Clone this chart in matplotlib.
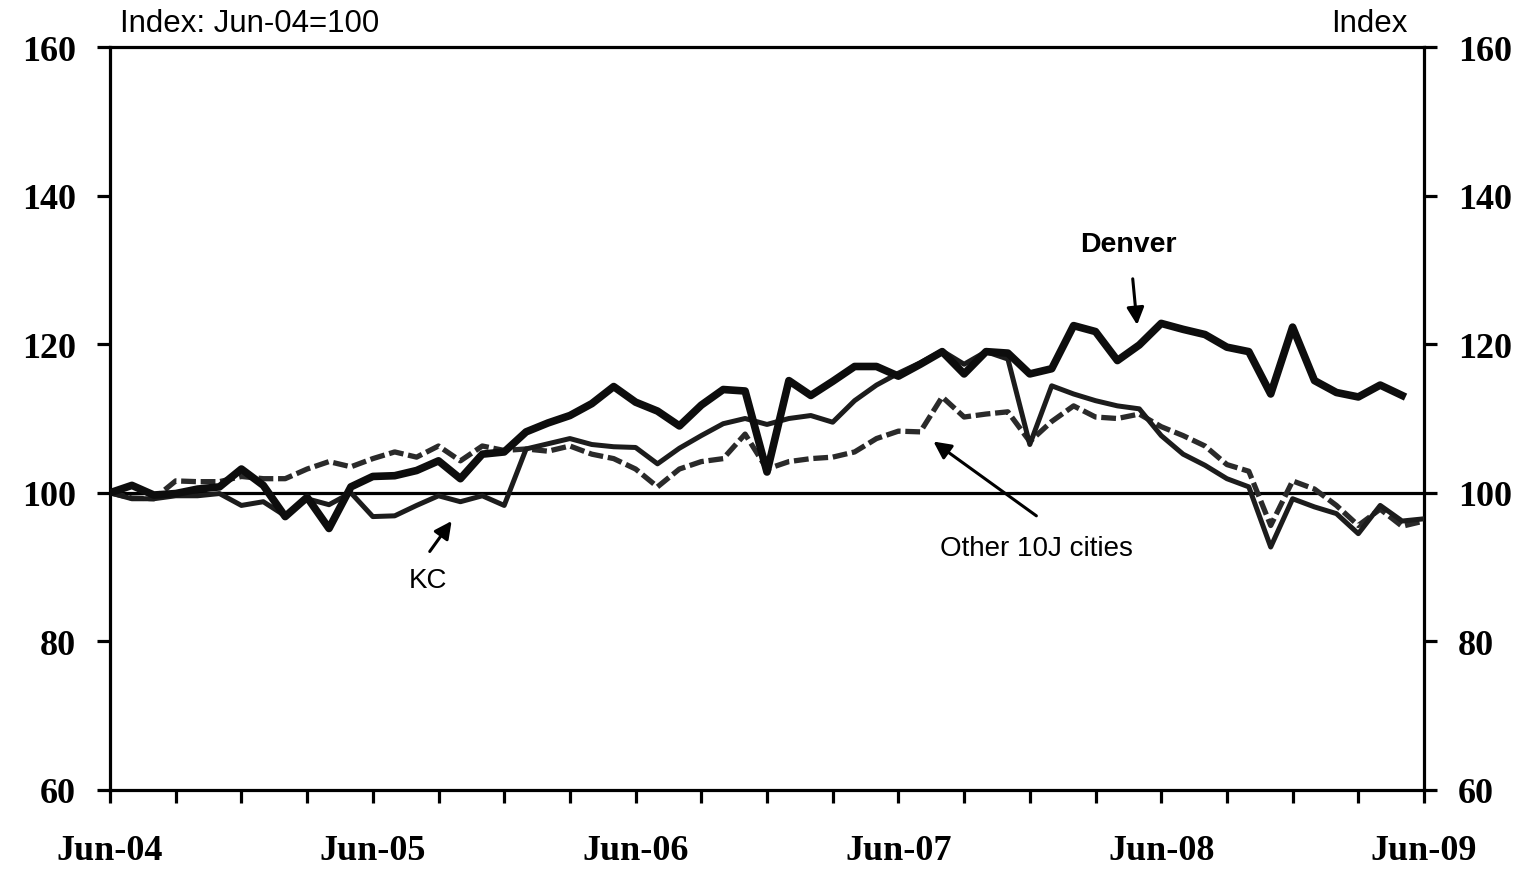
import matplotlib
matplotlib.use("Agg")
import matplotlib.pyplot as plt
import numpy as np

# Monthly index values, Jun-04 = 100 (month 0 = Jun-04 ... month 60 = Jun-09)
denver = [100.0, 101.0, 99.7, 99.9, 100.5, 100.8, 103.2, 101.0, 96.8, 99.4,
          95.2, 100.8, 102.2, 102.3, 103.0, 104.3, 101.9, 105.2, 105.5, 108.2,
          109.4, 110.4, 112.0, 114.3, 112.2, 111.0, 109.0, 111.8, 113.9, 113.7,
          102.8, 115.1, 113.1, 115.0, 117.0, 117.0, 115.7, 117.3, 119.0, 116.0,
          119.0, 118.8, 116.0, 116.7, 122.5, 121.7, 117.8, 119.9, 122.8, 122.0,
          121.3, 119.6, 119.0, 113.3, 122.3, 115.1, 113.5, 112.9, 114.5, 113.1]

kc = [100.0, 99.2, 99.2, 99.6, 99.6, 99.9, 98.3, 98.8, 96.9, 99.2,
      98.4, 100.0, 96.8, 96.9, 98.3, 99.6, 98.8, 99.6, 98.3, 105.9,
      106.6, 107.3, 106.5, 106.2, 106.1, 103.9, 106.0, 107.7, 109.3, 110.0,
      109.2, 110.0, 110.4, 109.5, 112.4, 114.5, 116.1, 117.5, 119.1, 117.3,
      119.0, 118.0, 106.5, 114.4, 113.3, 112.4, 111.7, 111.3, 107.7, 105.2,
      103.7, 101.9, 100.8, 92.7, 99.2, 98.1, 97.2, 94.5, 98.3, 96.2, 96.5]

other10j = [100.0, 99.3, 99.2, 101.6, 101.5, 101.5, 102.2, 101.9, 101.9, 103.2,
            104.2, 103.5, 104.6, 105.5, 104.8, 106.3, 104.3, 106.3, 105.7, 105.9,
            105.6, 106.3, 105.2, 104.6, 103.2, 100.8, 103.2, 104.2, 104.6, 107.9,
            103.2, 104.2, 104.6, 104.8, 105.5, 107.3, 108.3, 108.2, 112.9, 110.2,
            110.6, 110.9, 106.9, 109.6, 111.7, 110.2, 110.0, 110.6, 108.9, 107.7,
            106.3, 103.8, 102.9, 95.6, 101.6, 100.5, 98.3, 95.6, 97.8, 95.5, 96.2]

year_labels = ["Jun-04", "Jun-05", "Jun-06", "Jun-07", "Jun-08", "Jun-09"]
y_ticks = [60, 80, 100, 120, 140, 160]

fig = plt.figure(figsize=(15.29, 8.70), dpi=100)
ax = fig.add_axes([110/1529, 79/870, 1314/1529, 743/870])

m_den = np.arange(len(denver))
m_all = np.arange(len(kc))

ax.axhline(100, color="black", lw=2.3, zorder=2)
ax.plot(m_all, other10j, color="#2a2a2a", lw=3.8, linestyle=(0, (2.8, 0.9)), zorder=3)
ax.plot(m_all, kc, color="#1c1c1c", lw=3.6, zorder=4)
ax.plot(m_den, denver, color="#0d0d0d", lw=5.5, zorder=5)

ax.set_xlim(0, 60)
ax.set_ylim(60, 160)

for s in ax.spines.values():
    s.set_linewidth(2.3)
    s.set_color("black")

ax.set_xticks(np.arange(0, 61, 12))
ax.set_xticklabels(year_labels)
ax.set_xticks(np.arange(0, 61, 3), minor=True)
ax.set_yticks(y_ticks)
ax.set_yticklabels([str(v) for v in y_ticks])

ax.tick_params(axis="x", which="both", direction="out", length=9.5, width=2.3,
               pad=22, bottom=True, top=False)
ax.tick_params(axis="y", which="major", direction="out", length=9.5, width=2.3,
               pad=15, left=True, right=True, labelleft=True, labelright=True)

for t in ax.xaxis.get_major_ticks() + ax.yaxis.get_major_ticks():
    for lab in (t.label1, t.label2):
        lab.set_fontfamily("Liberation Serif")
        lab.set_fontweight("bold")
        lab.set_fontsize(26)

fig.text(120/1529, 1 - 24/870, "Index: Jun-04=100", ha="left", va="center",
         fontsize=22.5, family="Liberation Sans")
fig.text(1408/1529, 1 - 24/870, "Index", ha="right", va="center",
         fontsize=22.5, family="Liberation Sans")

arrow = dict(arrowstyle="-|>", color="black", lw=2.2, mutation_scale=26,
             shrinkA=0, shrinkB=0)
ax.text(46.5, 133.5, "Denver", ha="center", va="center", fontsize=20.5,
        fontweight="bold", family="Liberation Sans")
ax.annotate("", xy=(46.9, 122.6), xytext=(46.7, 128.8), arrowprops=arrow)

ax.text(14.5, 88.3, "KC", ha="center", va="center", fontsize=20,
        family="Liberation Sans")
ax.annotate("", xy=(15.6, 96.2), xytext=(14.6, 92.1), arrowprops=arrow)

ax.text(42.3, 92.6, "Other 10J cities", ha="center", va="center", fontsize=20,
        family="Liberation Sans")
ax.annotate("", xy=(37.6, 106.9), xytext=(42.3, 96.9), arrowprops=arrow)

fig.savefig("out.png", dpi=100)
